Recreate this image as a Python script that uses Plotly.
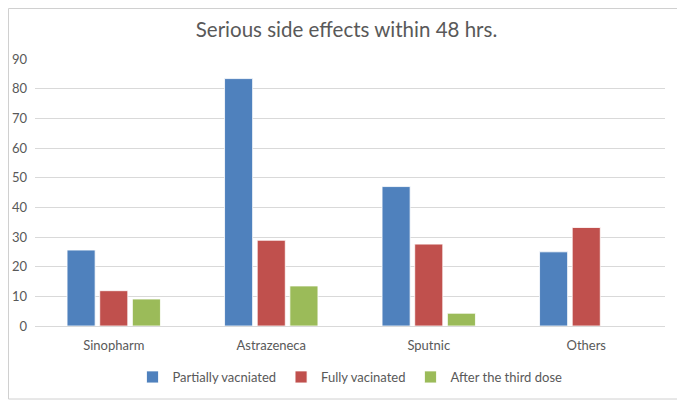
import plotly.graph_objects as go

categories = ["Sinopharm", "Astrazeneca", "Sputnic", "Others"]
partially = [25.6, 83.4, 47.0, 25.0]
fully = [11.9, 28.9, 27.6, 33.2]
third = [9.1, 13.5, 4.3, 0]
series_names = ["Partially vacniated", "Fully vacinated", "After the third dose"]
colors = ["#4F81BD", "#C0504D", "#9BBB59"]
y_ticks = list(range(0, 100, 10))

fig = go.Figure()
for name, vals, col in zip(series_names, [partially, fully, third], colors):
    fig.add_trace(go.Bar(
        x=categories, y=vals, name=name,
        marker=dict(color=col, line=dict(color="white", width=0.8)),
    ))

font_family = "Lato, Carlito, Liberation Sans, sans-serif"
# page body has an 8px margin, so the figure is sized to fit the remaining window
W, H = 677, 392
L, R, T, B = 27, 20, 51, 74
pw, ph = W - L - R, H - T - B
fig.update_layout(
    width=W, height=H,
    margin=dict(l=L, r=R, t=T, b=B, autoexpand=False),
    paper_bgcolor="white", plot_bgcolor="white",
    barmode="group", bargap=0.378, bargroupgap=0.14,
    title=dict(text="Serious side effects within 48 hrs.", x=0.5, xanchor="center",
               y=1 - 22 / H, yanchor="middle",
               font=dict(family=font_family, size=20.5, color="#595959")),
    font=dict(family=font_family, size=13, color="#595959"),
    xaxis=dict(showgrid=False, showline=True, linecolor="#d9d9d9", linewidth=1,
               ticks="", automargin=False, ticklabelstandoff=7,
               tickfont=dict(size=13, color="#595959")),
    yaxis=dict(range=[0, 90], tickvals=y_ticks, showgrid=True, gridcolor="#d9d9d9",
               gridwidth=1, zeroline=False, showline=False, ticks="", automargin=False,
               ticklabelstandoff=7, tickfont=dict(size=13, color="#595959")),
    legend=dict(orientation="h", x=0.5, xanchor="center", y=-51 / ph,
                yanchor="middle", font=dict(size=13, color="#595959"),
                traceorder="normal", itemwidth=30),
    showlegend=True,
)
# thin frame around the whole chart
fig.add_shape(type="rect", xref="paper", yref="paper",
              x0=-(L - 0.5) / pw, x1=1 + (R - 1) / pw,
              y0=-(B - 1) / ph, y1=1 + (T - 0.5) / ph,
              line=dict(color="#d0d0d0", width=1), layer="above")
fig.write_html("out.html")
